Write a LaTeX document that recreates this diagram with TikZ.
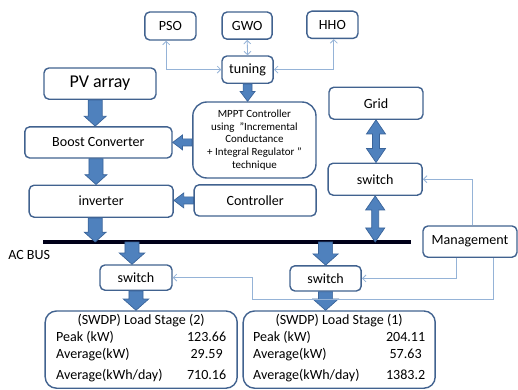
\documentclass[tikz,border=0pt]{standalone}
\usepackage{fontspec}
\setmainfont{Carlito}
\usepackage{tikz}
\usetikzlibrary{calc,arrows.meta}

\definecolor{boxline}{HTML}{41628F}
\definecolor{arrowfill}{HTML}{4F81BD}
\definecolor{arrowline}{HTML}{3A649A}
\definecolor{thinline}{HTML}{95B3D7}

\tikzset{
    box/.style={draw=boxline, line width=1pt, rounded corners=3.5pt, inner sep=2pt},
    fatarr/.style={fill=arrowfill, draw=arrowline, line width=0.5pt},
    link/.style={draw=thinline, line width=0.6pt},
}

% block arrow: half shaft, half head, head length, from, to
\newcommand{\fatarrow}[5]{%
    \path #4 coordinate (fa-a) #5 coordinate (fa-b);
    \coordinate (fa-h) at ($(fa-b)!#3!(fa-a)$);
    \draw[fatarr] ($(fa-a)!#1!90:(fa-b)$) -- ($(fa-h)!#1!-90:(fa-a)$)
        -- ($(fa-h)!#2!-90:(fa-a)$) -- (fa-b) -- ($(fa-h)!#2!90:(fa-a)$)
        -- ($(fa-h)!#1!90:(fa-a)$) -- ($(fa-a)!#1!-90:(fa-b)$) -- cycle;}
% same with a head at both ends
\newcommand{\fatdarrow}[5]{%
    \path #4 coordinate (fa-a) #5 coordinate (fa-b);
    \coordinate (fa-h) at ($(fa-b)!#3!(fa-a)$);
    \coordinate (fa-g) at ($(fa-a)!#3!(fa-b)$);
    \draw[fatarr] (fa-a) -- ($(fa-g)!#2!90:(fa-b)$) -- ($(fa-g)!#1!90:(fa-b)$)
        -- ($(fa-h)!#1!-90:(fa-a)$) -- ($(fa-h)!#2!-90:(fa-a)$) -- (fa-b)
        -- ($(fa-h)!#2!90:(fa-a)$) -- ($(fa-h)!#1!90:(fa-a)$)
        -- ($(fa-g)!#1!-90:(fa-b)$) -- ($(fa-g)!#2!-90:(fa-b)$) -- cycle;}

\begin{document}
\begin{tikzpicture}[>={Straight Barb[length=2.5pt,width=5pt]}]
        \useasboundingbox (0, 0) rectangle (12.95, -9.75);

        % optimisers and tuning
        \node[box, minimum width=1.28cm, minimum height=0.7cm] (pso) at (4.26, -0.65) {PSO};
        \node[box, minimum width=1.25cm, minimum height=0.68cm] (gwo) at (6.18, -0.64) {GWO};
        \node[box, minimum width=1.28cm, minimum height=0.68cm] (hho) at (8.31, -0.62) {HHO};
        \node[box, minimum width=1.28cm, minimum height=0.68cm] (tuning) at (6.19, -1.74) {tuning};
        \draw[link, <->] ([xshift=-3pt]pso.south) |- (tuning.west);
        \draw[link, <->] (gwo.south) -- (tuning.north);
        \draw[link, <->] ([xshift=1pt]hho.south) |- (tuning.east);

        % PV chain
        \node[box, minimum width=2.8cm, minimum height=0.78cm, font=\fontsize{12.8}{15}\selectfont] (pv) at (2.5, -2.09) {PV array};
        \node[box, minimum width=3.68cm, minimum height=0.78cm] (boost) at (2.46, -3.56) {Boost Converter};
        \node[box, minimum width=3.6cm, minimum height=0.8cm] (inv) at (2.53, -5.03) {inverter};
        \node[box, rounded corners=10pt, minimum width=3.08cm, minimum height=1.9cm, align=center,
            font=\fontsize{7.8}{9.1}\selectfont] (mppt) at (6.36, -3.5)
            {MPPT Controller\\using~~\char34Incremental\\Conductance\\+ Integral Regulator \char34\\technique};
        \node[box, minimum width=3.05cm, minimum height=0.78cm] (ctrl) at (6.38, -5.01) {Controller};

        % grid side
        \node[box, minimum width=2.35cm, minimum height=0.8cm] (grid) at (9.4, -2.58) {Grid};
        \node[box, minimum width=2.35cm, minimum height=0.8cm] (swgrid) at (9.38, -4.48) {switch};
        \node[box, minimum width=2.35cm, minimum height=0.78cm] (mgmt) at (11.75, -6.04) {Management};

        % AC bus
        \coordinate (busl) at (1.08, -6.05);
        \coordinate (busr) at (10.28, -6.05);
        \draw[line width=2.2pt, black!90!blue] (busl) -- (busr);
        \node (acbus) at (0.73, -6.38) {AC BUS};

        % loads
        \node[box, minimum width=1.8cm, minimum height=0.63cm] (swtwo) at (3.4, -6.94) {switch};
        \node[box, minimum width=1.78cm, minimum height=0.63cm] (swone) at (8.14, -6.96) {switch};
        \node[box, rounded corners=8pt, minimum width=4.8cm, minimum height=1.93cm, align=center] (loadtwo) at (3.53, -8.74)
            {(SWDP) Load Stage (2)\\
             \begin{tabular}[t]{@{}p{2.85cm}c@{}}
                 Peak (kW) & 123.66\\
                 Average(kW) & 29.59\\[3pt]
                 Average(kWh/day) & 710.16
             \end{tabular}};
        \node[box, rounded corners=8pt, minimum width=4.8cm, minimum height=1.93cm, align=center] (loadone) at (8.48, -8.74)
            {(SWDP) Load Stage (1)\\
             \begin{tabular}[t]{@{}p{2.9cm}c@{}}
                 Peak (kW) & 204.11\\
                 Average(kW) & 57.63\\[3pt]
                 Average(kWh/day) & 1383.2
             \end{tabular}};

        % block arrows
        \coordinate (pvout) at ($(pv.south)+(-0.12, 0)$);
        \coordinate (boostout) at ($(boost.south)+(-0.06, 0)$);
        \coordinate (invout) at ($(inv.south)+(-0.15, 0)$);
        \coordinate (twoin) at ($(swtwo.north)+(-0.1, 0)$);
        \fatarrow{5pt}{7.8pt}{7pt}{(pvout)}{(pvout |- boost.north)}
        \fatarrow{5pt}{7.8pt}{7pt}{(boostout)}{(boostout |- inv.north)}
        \fatarrow{5pt}{7.8pt}{7pt}{(invout)}{(invout |- busl)}
        \fatarrow{3.2pt}{5.3pt}{7pt}{(tuning.south)}{(tuning.south |- mppt.north)}
        \fatarrow{2.5pt}{5.3pt}{7pt}{(mppt.west |- boost.east)}{(boost.east)}
        \fatarrow{2.5pt}{5.3pt}{7pt}{(ctrl.west)}{(ctrl.west -| inv.east)}
        \fatdarrow{2.5pt}{6.8pt}{10pt}{(grid.south)}{(grid.south |- swgrid.north)}
        \fatdarrow{2.5pt}{6.8pt}{10pt}{(swgrid.south)}{(swgrid.south |- busl)}
        \fatarrow{5pt}{9pt}{8pt}{(twoin |- busl)}{(twoin)}
        \fatarrow{5pt}{9pt}{8pt}{(swone.north |- busl)}{(swone.north)}
        \fatarrow{5pt}{9pt}{8pt}{(swtwo.south)}{(swtwo.south |- loadtwo.north)}
        \fatarrow{5pt}{9pt}{8pt}{(swone.south)}{(swone.south |- loadone.north)}

        % management signals
        \coordinate (detour) at (6.3, -7.48);
        \draw[link, ->] ([xshift=2pt]mgmt.north) |- (swgrid.east);
        \draw[link, ->] ([xshift=-10pt]mgmt.south) |- (swone.east);
        \draw[link, ->] ([xshift=16.4pt]mgmt.south) |- (detour) |- (swtwo.east);
    \end{tikzpicture}
\end{document}
